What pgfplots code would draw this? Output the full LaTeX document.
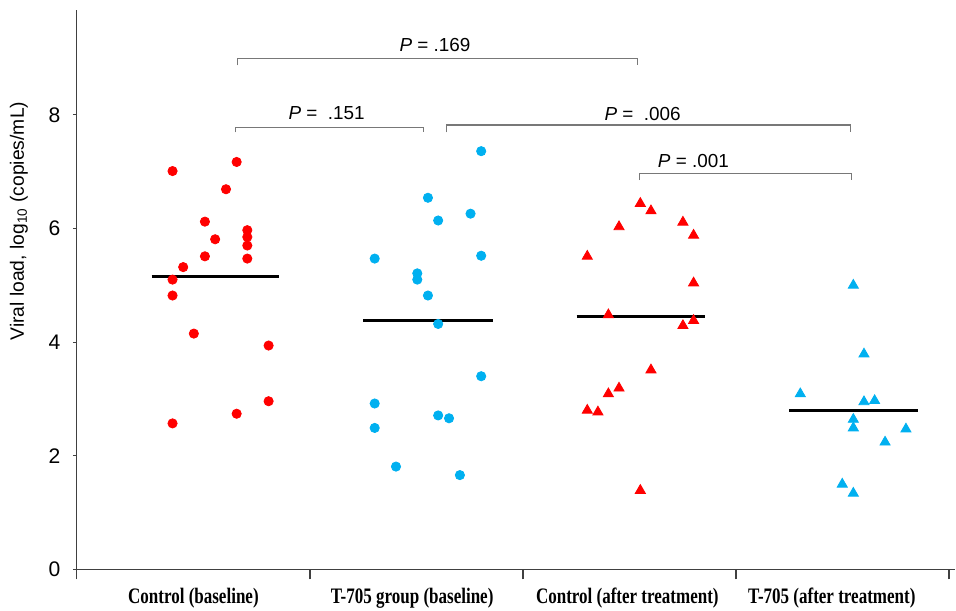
\documentclass[border=0pt]{standalone}
\usepackage{fontspec}
\setmainfont{Liberation Sans}
\newfontfamily\timescond{Liberation Serif}[FakeStretch=0.77]
\usepackage{pgfplots}
\pgfplotsset{compat=1.18}
\definecolor{cred}{RGB}{255,0,0}
\definecolor{cblue}{RGB}{0,176,240}
\definecolor{brk}{RGB}{120,120,120}
\begin{document}
\begin{tikzpicture}
\begin{axis}[
  scale only axis, width=437.5pt, height=278.5pt,
  xmin=-0.594, xmax=3.53, ymin=0, ymax=9.84,
  axis x line*=bottom, axis y line*=left,
  axis line style={black!75, line width=0.6pt},
  tick style={black!75, line width=0.6pt},
  tick align=outside,
  xtick style={/pgfplots/major tick length=5pt},
  ytick style={/pgfplots/major tick length=2pt},
  xtick={-0.594,0.5,1.5,2.5,3.5}, xticklabels={},
  ytick={0,2,4,6,8},
  /pgf/number format/assume math mode=true,
  yticklabel style={font=\fontsize{10.5}{12}\selectfont, xshift=-0.5pt},
  extra x ticks={-0.047,0.98,1.99,2.95},
  extra x tick labels={Control (baseline),T-705 group (baseline),Control (after treatment),T-705 (after treatment)},
  extra x tick style={tick style={draw=none}, tick label style={font=\timescond\bfseries\fontsize{11}{12}\selectfont, yshift=-1.5pt}},
  clip=false,
]
% Control (baseline)
\addplot[only marks, mark=*, mark size=2.3pt, cred, mark options={draw=cred, fill=cred}] coordinates {
(-0.145,7.01) (0.156,7.17) (0.106,6.69) (0.007,6.12) (0.055,5.81) (0.206,5.97)
(0.206,5.85) (0.206,5.70) (0.007,5.51) (0.206,5.47) (-0.095,5.32) (-0.145,5.10)
(-0.145,4.82) (-0.045,4.15) (0.306,3.94) (0.306,2.96) (0.156,2.74) (-0.145,2.57)
};
% T-705 group (baseline)
\addplot[only marks, mark=*, mark size=2.3pt, cblue, mark options={draw=cblue, fill=cblue}] coordinates {
(1.304,7.36) (1.054,6.54) (1.254,6.26) (1.102,6.14) (0.804,5.47) (1.304,5.52)
(1.004,5.21) (1.004,5.10) (1.054,4.82) (1.102,4.32) (1.304,3.40) (0.804,2.92)
(1.102,2.71) (1.153,2.66) (0.804,2.49) (0.904,1.81) (1.204,1.66)
};
% Control (after treatment)
\addplot[only marks, mark=triangle*, mark size=2.9pt, cred, mark options={draw=cred, fill=cred}] coordinates {
(2.051,6.44) (2.101,6.31) (1.951,6.03) (2.251,6.11) (2.301,5.88) (1.802,5.51)
(2.301,5.04) (1.901,4.48) (2.301,4.38) (2.251,4.29) (2.101,3.51) (1.951,3.19)
(1.901,3.09) (1.802,2.80) (1.852,2.77) (2.051,1.39)
};
% T-705 (after treatment)
\addplot[only marks, mark=triangle*, mark size=2.9pt, cblue, mark options={draw=cblue, fill=cblue}] coordinates {
(3.051,5.00) (3.101,3.79) (2.802,3.09) (3.101,2.95) (3.151,2.97) (3.051,2.64)
(3.051,2.49) (3.298,2.47) (3.200,2.24) (2.999,1.50) (3.051,1.34)
};
% medians
\addplot[black, line width=1.4pt, no marks] coordinates {(-0.243,5.16) (0.356,5.16)};
\addplot[black, line width=1.4pt, no marks] coordinates {(0.750,4.38) (1.358,4.38)};
\addplot[black, line width=1.4pt, no marks] coordinates {(1.752,4.45) (2.354,4.45)};
\addplot[black, line width=1.4pt, no marks] coordinates {(2.750,2.79) (3.353,2.79)};
% brackets
\draw[brk, line width=0.7pt] (axis cs:0.159,8.87) -- (axis cs:0.159,8.99) -- (axis cs:2.037,8.99) -- (axis cs:2.037,8.87);
\draw[brk, line width=0.7pt] (axis cs:0.151,7.69) -- (axis cs:0.151,7.78) -- (axis cs:1.032,7.78) -- (axis cs:1.032,7.69);
\draw[brk, line width=0.7pt] (axis cs:1.142,7.69) -- (axis cs:1.142,7.82) -- (axis cs:3.038,7.82) -- (axis cs:3.038,7.69);
\draw[brk, line width=0.7pt] (axis cs:2.046,6.85) -- (axis cs:2.046,6.97) -- (axis cs:3.043,6.97) -- (axis cs:3.043,6.85);
\node[font=\fontsize{9.4}{11}\selectfont] at (axis cs:1.087,9.22) {\textit{P} = .169};
\node[font=\fontsize{9.4}{11}\selectfont] at (axis cs:0.578,8.03) {\textit{P} =\ \ .151};
\node[font=\fontsize{9.4}{11}\selectfont] at (axis cs:2.062,8.02) {\textit{P} =\ \ .006};
\node[font=\fontsize{9.4}{11}\selectfont] at (axis cs:2.300,7.19) {\textit{P} = .001};
% y label
\node[rotate=90, font=\fontsize{9.6}{11}\selectfont] at (axis cs:-0.866,6.13) {Viral load, log\textsubscript{10} (copies/mL)};
\coordinate (bbl) at (axis cs:-0.955,-0.724);
\coordinate (btr) at (axis cs:3.533,10.02);
\end{axis}
\pgfresetboundingbox
\path (bbl) rectangle (btr);
\end{tikzpicture}
\end{document}
